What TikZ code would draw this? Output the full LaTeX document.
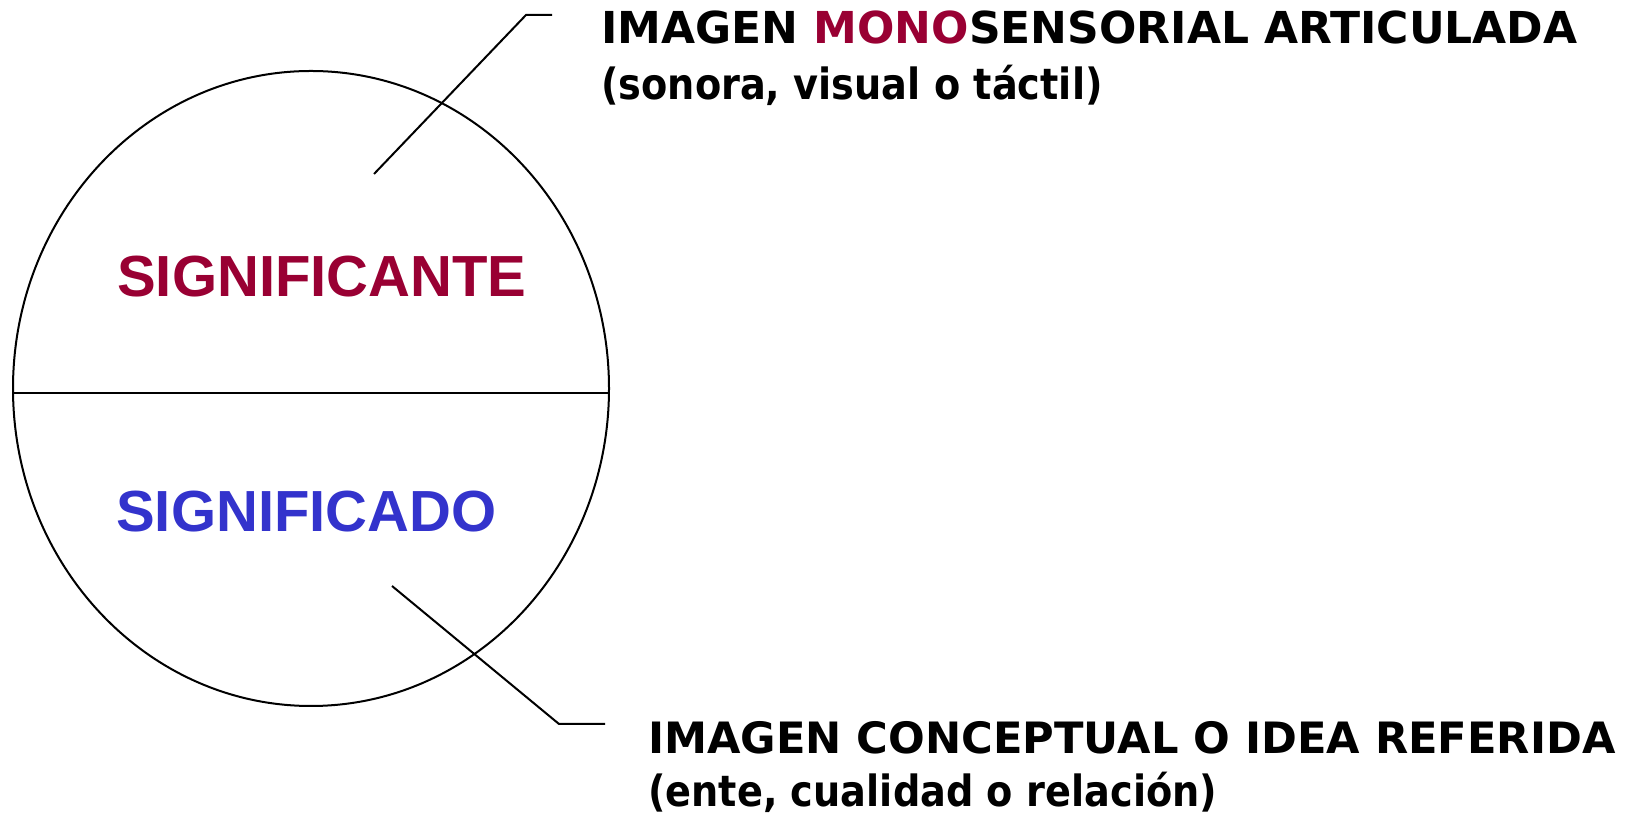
\documentclass[tikz,border=0pt]{standalone}
\usepackage{fontspec}
\setmainfont{DejaVu Sans}
\newfontfamily\estrecha[FakeStretch=0.89]{DejaVu Sans}
\newfontfamily\arialfont{Liberation Sans}
\usetikzlibrary{shapes.geometric}
\definecolor{granate}{HTML}{990033}
\definecolor{azul}{HTML}{3333CC}

\begin{document}
\begin{tikzpicture}[x=1pt,y=1pt,
		leader/.style={line width=2pt},
		rasgo/.style={inner sep=0pt,anchor=base west,font=\fontsize{44}{53}\selectfont\bfseries},
		nota/.style={inner sep=0pt,anchor=base west,font=\estrecha\fontsize{43}{52}\selectfont\bfseries},
		cara/.style={inner sep=0pt,anchor=base west,font=\arialfont\fontsize{58}{70}\selectfont\bfseries}]
			\useasboundingbox (0,0) rectangle (1627,818);
			
			\node[ellipse,draw,line width=2pt,minimum width=596,minimum height=635,inner sep=0pt] (signo) at (311,429.5) {};
			\draw[line width=2pt] ([yshift=-5pt]signo.west) -- ([yshift=-5pt]signo.east);
			
			\node[cara,granate] (significante) at (117,521) {SIGNIFICANTE};
			\node[cara,azul] (significado) at (116,286) {SIGNIFICADO};
			
			\node[rasgo] (imagenA) at (601,774) {IMAGEN \textcolor{granate}{MONO}SENSORIAL ARTICULADA};
			\node[nota] (sentidos) at (601,718) {(sonora, visual o táctil)};
			\node[rasgo,font=\fontsize{43.2}{52}\selectfont\bfseries] (imagenB) at (648,64) {IMAGEN CONCEPTUAL O IDEA REFERIDA};
			\node[nota] (idea) at (648,11) {(ente, cualidad o relación)};
			
			\coordinate (puntaA) at (374,644);
			\coordinate (codoA) at (526,803);
			\coordinate (finA) at (552,803);
			\draw[leader] (puntaA) -- (codoA) -- (finA);
			
			\coordinate (puntaB) at (392,232);
			\coordinate (codoB) at (559,94);
			\coordinate (finB) at (605,94);
			\draw[leader] (puntaB) -- (codoB) -- (finB);
		  \end{tikzpicture}
\end{document}
